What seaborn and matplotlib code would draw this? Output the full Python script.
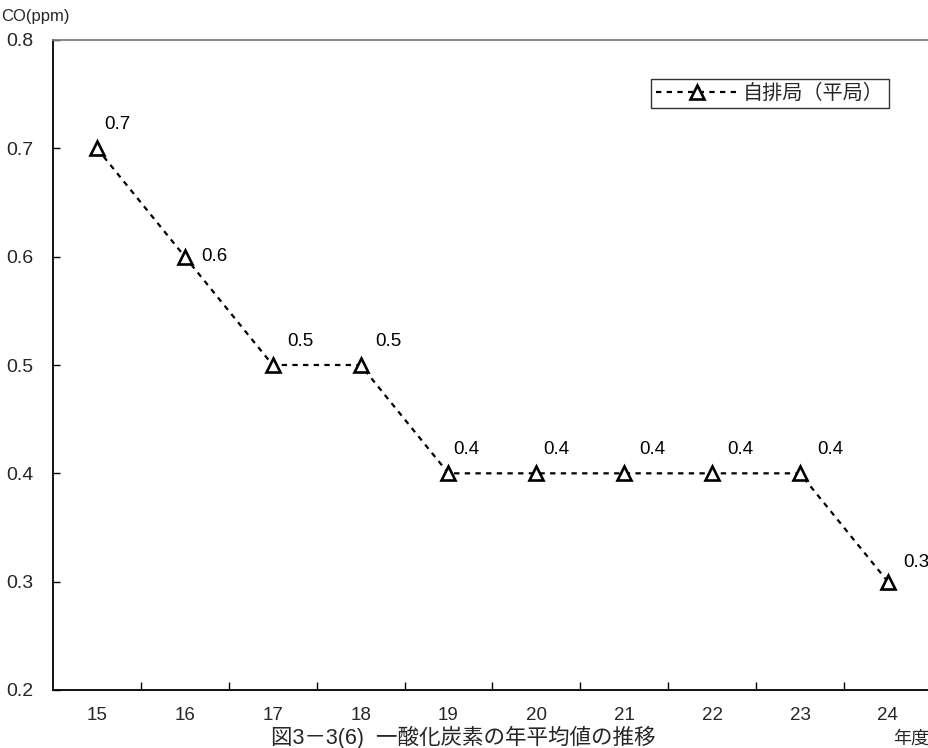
import matplotlib
matplotlib.use("Agg")
import matplotlib.pyplot as plt
import seaborn as sns
import pandas as pd

# Annual mean CO concentration at roadside stations (fiscal years H15-H24)
years = ["15", "16", "17", "18", "19", "20", "21", "22", "23", "24"]
co_values = [0.7, 0.6, 0.5, 0.5, 0.4, 0.4, 0.4, 0.4, 0.4, 0.3]
series_name = "自排局（平局）"
y_ticks = [0.2, 0.3, 0.4, 0.5, 0.6, 0.7, 0.8]

# value-label offsets in pixels (dx, dy)
label_offsets = [(20, 24), (30, 0), (28, 24), (28, 24), (18, 24),
                 (20, 24), (28, 24), (28, 24), (30, 24), (28, 19)]

sns.set_theme(style="white")
plt.rcParams["font.family"] = ["Liberation Sans", "Noto Sans CJK JP", "DejaVu Sans"]

df = pd.DataFrame({"pos": range(len(years)), "value": co_values,
                   "series": series_name})

fig = plt.figure(figsize=(9.29, 7.48), dpi=100)
ax = fig.add_axes([53 / 929, 1 - 690 / 748, 1 - 53 / 929 + 0.003, (690 - 40) / 748])

sns.lineplot(data=df, x="pos", y="value", hue="series", palette=["black"],
             ax=ax, marker="^", markersize=10, markerfacecolor="white",
             markeredgecolor="black", markeredgewidth=1.9, linewidth=1.6,
             dashes=False, linestyle=(0, (2.4, 2.4)))

ax.set_xlim(-0.5, len(years) - 0.5)
ax.set_ylim(0.2, 0.8)
ax.set_yticks(y_ticks)
ax.set_yticklabels([f"{v:.1f}" for v in y_ticks], fontsize=14)

# category labels centred, tick marks on category boundaries
ax.set_xticks([i + 0.5 for i in range(len(years) - 1)])
ax.set_xticklabels([])
ax.set_xticks(range(len(years)), minor=True)
ax.set_xticklabels(years, minor=True, fontsize=13.5)
ax.tick_params(axis="x", which="major", direction="in", length=6, width=1,
               color="black", bottom=True)
ax.tick_params(axis="x", which="minor", length=0, pad=12)
ax.tick_params(axis="y", direction="in", length=5, width=1, color="black",
               left=True, pad=14)
ax.set_xlabel("")
ax.set_ylabel("")

for side in ["left", "bottom"]:
    ax.spines[side].set_color("black")
    ax.spines[side].set_linewidth(1.3)
ax.spines["top"].set_color("#808080")
ax.spines["top"].set_linewidth(1.3)
ax.spines["right"].set_visible(False)

for i, v in enumerate(co_values):
    dx, dy = label_offsets[i]
    ax.annotate(f"{v:.1f}", (i, v), xytext=(dx * 0.72, dy * 0.72),
                textcoords="offset points", ha="center", va="center",
                fontsize=13.5, color="black")

leg = ax.legend(loc="upper right", bbox_to_anchor=(889 / 929, 1 - 79 / 748),
                bbox_transform=fig.transFigure, frameon=True, fancybox=False,
                fontsize=14.5, handlelength=4.0, handletextpad=0.3,
                borderpad=0.25, borderaxespad=0)
leg.get_frame().set_edgecolor("black")
leg.get_frame().set_linewidth(1.0)

fig.text(1 / 929, 1 - 16 / 748, "CO(ppm)", fontsize=12, ha="left", va="center")
fig.text(929 / 929, 1 - 744 / 748, "年度", fontsize=13, ha="right", va="baseline")
fig.text(463 / 929, 1 - 744 / 748, "図3－3(6)  一酸化炭素の年平均値の推移",
         fontsize=15.5, ha="center", va="baseline")

fig.savefig("out.png", dpi=100)
